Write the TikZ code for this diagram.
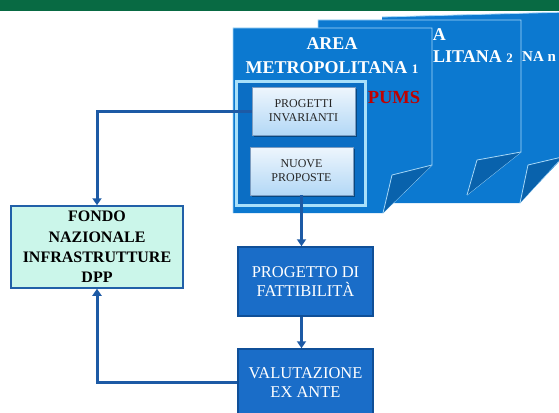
\documentclass[tikz,border=0pt]{standalone}
\usepackage{fontspec}
\setmainfont{Liberation Serif}
\usetikzlibrary{arrows.meta,shadows}
\definecolor{greenbar}{HTML}{086A43}
\definecolor{pagefill}{HTML}{0C79D0}
\definecolor{pageedge}{HTML}{A6D8F8}
\definecolor{flapfill}{HTML}{0962AC}
\definecolor{framefill}{HTML}{0B6EC4}
\definecolor{frameedge}{HTML}{A9E0FA}
\definecolor{boxblue}{HTML}{1A6DC8}
\definecolor{boxedge}{HTML}{0F4F98}
\definecolor{fondofill}{HTML}{CBF6EA}
\definecolor{fondoedge}{HTML}{2160A8}
\definecolor{linkblue}{HTML}{1D5AA5}
\definecolor{pumsred}{HTML}{C00000}
\definecolor{lighttop}{HTML}{EEF6FD}
\definecolor{lightbot}{HTML}{B3D8F6}
\definecolor{lightedge}{HTML}{7C9CC0}
\newcommand{\osone}[1]{{\fontsize{13}{13}\selectfont #1}}
\begin{document}
\begin{tikzpicture}[x=1pt,y=-1pt,
  pageshape/.style={fill=pagefill},
  pageline/.style={draw=pageedge,line width=0.8pt},
  flap/.style={fill=flapfill,draw=pageedge,line width=0.8pt,line join=round},
  pagetitle/.style={text=white,align=center,inner sep=0pt,font=\bfseries\fontsize{18}{23.5}\selectfont},
  lightbox/.style={draw=lightedge,line width=0.5pt,top color=lighttop,bottom color=lightbot,
    minimum width=103pt,minimum height=48pt,inner sep=0pt,align=center,text=black!85,
    font=\fontsize{12}{14}\selectfont,
    drop shadow={shadow xshift=1.5pt,shadow yshift=-1.5pt,fill=black,opacity=0.35}},
  bluebox/.style={draw=boxedge,line width=1.5pt,fill=boxblue,text=white,align=center,
    inner sep=0pt,font=\fontsize{16.5}{19.5}\selectfont},
  fondobox/.style={draw=fondoedge,line width=1.5pt,fill=fondofill,text=black,align=center,
    inner sep=0pt,font=\bfseries\fontsize{16}{20.3}\selectfont},
  link/.style={draw=linkblue,line width=3pt},
  linkarrow/.style={link,-{Triangle[width=9pt,length=7pt]}}
]
\useasboundingbox (0,0) rectangle (559,412);
\clip (0,0) rectangle (559,412);
% green bar
\fill[greenbar] (0,0) rectangle (559,11);
% page 3
\fill[pageshape] (382,17) -- (570,12) -- (570,150) -- (520,203) -- (382,203) -- cycle;
\draw[pageline] (382,17) -- (570,12);
\draw[pageline] (520,203) -- (562,157);
\draw[flap] (520,203) -- (528,165) -- (562,157);
\node[pagetitle,anchor=base west,font=\bfseries\fontsize{15}{18}\selectfont] (t3) at (522,61) {NA n};
% page 2
\fill[pageshape] (318,20) -- (521,20) -- (521,152) -- (467,195) -- (318,195) -- cycle;
\draw[pageline] (318,195) -- (318,20) -- (521,20) -- (521,152) -- (467,195);
\draw[flap] (467,195) -- (477,160) -- (521,152);
\node[pagetitle,anchor=base east] (t2a) at (446,41) {A};
\node[pagetitle,anchor=base west] (t2b) at (433,63) {LITANA \osone{2}};
% page 1
\fill[pageshape] (233,28) -- (432,28) -- (432,165) -- (383,213) -- (233,213) -- cycle;
\draw[pageline] (233,213) -- (233,28) -- (432,28) -- (432,165) -- (383,213);
\draw[flap] (383,213) -- (392,175) -- (432,165);
\node[pagetitle] (t1) at (332,55.5) {AREA\\METROPOLITANA \osone{1}};
% inner frame
\draw[draw=frameedge,line width=3pt,fill=framefill] (236.5,81.5) rectangle (365.5,205.5);
\node[font=\bfseries\fontsize{18.5}{20}\selectfont,text=pumsred] (pums) at (394,97) {PUMS};
% light boxes
\node[lightbox] (inv) at (303.5,111) {PROGETTI\\INVARIANTI};
\node[lightbox] (nuove) at (301.5,171) {NUOVE\\PROPOSTE};
% blue boxes
\node[bluebox,minimum width=135pt,minimum height=69pt] (prog) at (305.5,281.5) {PROGETTO DI\\FATTIBILITÀ};
\node[bluebox,minimum width=135pt,minimum height=67pt] (val) at (305.5,382.5) {VALUTAZIONE\\EX ANTE};
% fondo
\node[fondobox,minimum width=172pt,minimum height=82pt] (fondo) at (97,247) {FONDO\\NAZIONALE\\INFRASTRUTTURE\\DPP};
% connectors
\draw[linkarrow] (inv.west) -| (fondo.north);
\draw[linkarrow] (nuove.south) -- (nuove.south |- prog.north);
\draw[linkarrow] (nuove.south |- prog.south) -- (nuove.south |- val.north);
\draw[linkarrow] (val.west) -| (fondo.south);
\end{tikzpicture}
\end{document}
